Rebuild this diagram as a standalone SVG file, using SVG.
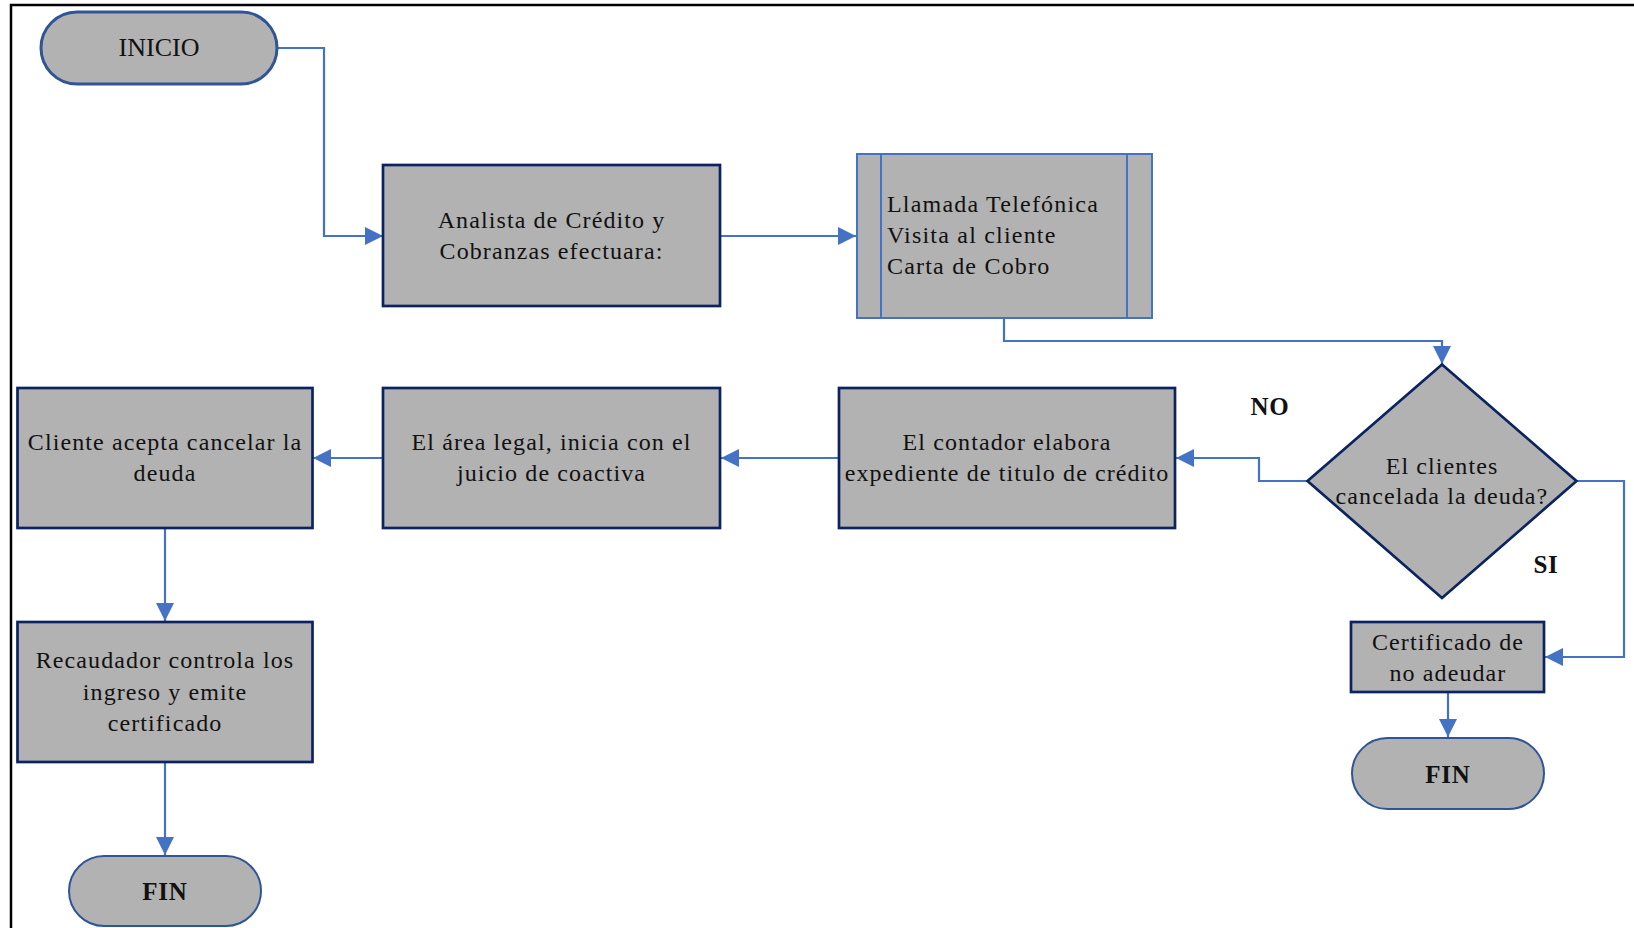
<svg xmlns="http://www.w3.org/2000/svg" width="1634" height="928" viewBox="0 0 1634 928">
<style>
  .box { fill: #B2B2B2; stroke: #0B2461; stroke-width: 2.7; }
  .term { fill: #B2B2B2; stroke: #2F5597; }
  .pre { fill: #B2B2B2; stroke: #4472C4; stroke-width: 2; }
  .t { font-family: "Liberation Serif", "Times New Roman", serif; font-size: 24px; letter-spacing: 1.1px; fill: #111; text-anchor: middle; }
  .tl { font-family: "Liberation Serif", "Times New Roman", serif; font-size: 24px; letter-spacing: 1.2px; fill: #111; }
  .b { font-family: "Liberation Serif", "Times New Roman", serif; font-size: 25px; letter-spacing: 0.8px; font-weight: bold; fill: #111; text-anchor: middle; }
  .c { fill: none; stroke: #4472C4; stroke-width: 2.2; marker-end: url(#arr); }
</style>
<defs>
  <marker id="arr" markerUnits="userSpaceOnUse" markerWidth="18" markerHeight="18" refX="18" refY="9" orient="auto">
    <path d="M0,0 L18,9 L0,18 Z" fill="#4472C4"/>
  </marker>
</defs>
<rect width="1634" height="928" fill="#fff"/>
<path d="M11 935 V5 H1640" fill="none" stroke="#000" stroke-width="2.5"/>

<g id="connectors">
  <path class="c" d="M277 48 H324 V236 H383"/>
  <path class="c" d="M720 236 H856"/>
  <path class="c" d="M1004 318 V341 H1442 V364"/>
  <path class="c" d="M1307 481 H1259 V458 H1176"/>
  <path class="c" d="M839 458 H721"/>
  <path class="c" d="M383 458 H313"/>
  <path class="c" d="M165 528 V621"/>
  <path class="c" d="M165 763 V855"/>
  <path class="c" d="M1576 481 H1624 V657 H1545"/>
  <path class="c" d="M1448 692 V737"/>
</g>

<g id="inicio">
  <rect class="term" x="41" y="12" width="236" height="72" rx="36" stroke-width="3"/>
  <text class="t" x="159" y="56" style="font-size:26px;letter-spacing:0">INICIO</text>
</g>

<g id="analista">
  <rect class="box" x="383" y="165" width="337" height="141"/>
  <text class="t" x="551.5" y="228">Analista de Crédito y</text>
  <text class="t" x="551.5" y="259">Cobranzas efectuara:</text>
</g>

<g id="llamada">
  <rect class="pre" x="857" y="154" width="295" height="164"/>
  <line x1="881" y1="154" x2="881" y2="318" stroke="#4472C4" stroke-width="2"/>
  <line x1="1127" y1="154" x2="1127" y2="318" stroke="#4472C4" stroke-width="2"/>
  <text class="tl" x="887" y="212">Llamada Telefónica</text>
  <text class="tl" x="887" y="243">Visita al cliente</text>
  <text class="tl" x="887" y="274">Carta de Cobro</text>
</g>

<g id="decision">
  <polygon class="box" points="1442,364.5 1576.5,481 1442,598 1307.5,481" stroke-width="2.5"/>
  <text class="t" x="1442" y="474">El clientes</text>
  <text class="t" x="1442" y="504">cancelada la deuda?</text>
</g>

<g id="label-no">
  <text class="b" x="1270" y="415">NO</text>
</g>
<g id="label-si">
  <text class="b" x="1546" y="573">SI</text>
</g>

<g id="contador">
  <rect class="box" x="839" y="388" width="336" height="140"/>
  <text class="t" x="1007" y="450">El contador elabora</text>
  <text class="t" x="1007" y="481">expediente de titulo de crédito</text>
</g>

<g id="legal">
  <rect class="box" x="383" y="388" width="337" height="140"/>
  <text class="t" x="551.5" y="450">El área legal, inicia con el</text>
  <text class="t" x="551.5" y="481">juicio de coactiva</text>
</g>

<g id="cliente">
  <rect class="box" x="17.5" y="388" width="295" height="140"/>
  <text class="t" x="165" y="450">Cliente acepta cancelar la</text>
  <text class="t" x="165" y="481">deuda</text>
</g>

<g id="recaudador">
  <rect class="box" x="17.5" y="622" width="295" height="140"/>
  <text class="t" x="165" y="668">Recaudador controla los</text>
  <text class="t" x="165" y="700">ingreso y emite</text>
  <text class="t" x="165" y="731">certificado</text>
</g>

<g id="fin-left">
  <rect class="term" x="69" y="856" width="192" height="70" rx="35" stroke-width="2"/>
  <text class="b" x="165" y="900">FIN</text>
</g>

<g id="certificado">
  <rect class="box" x="1351" y="622" width="193" height="70"/>
  <text class="t" x="1448" y="650">Certificado de</text>
  <text class="t" x="1448" y="681">no adeudar</text>
</g>

<g id="fin-right">
  <rect class="term" x="1352" y="738" width="192" height="71" rx="35.5" stroke-width="2"/>
  <text class="b" x="1448" y="783">FIN</text>
</g>
</svg>
